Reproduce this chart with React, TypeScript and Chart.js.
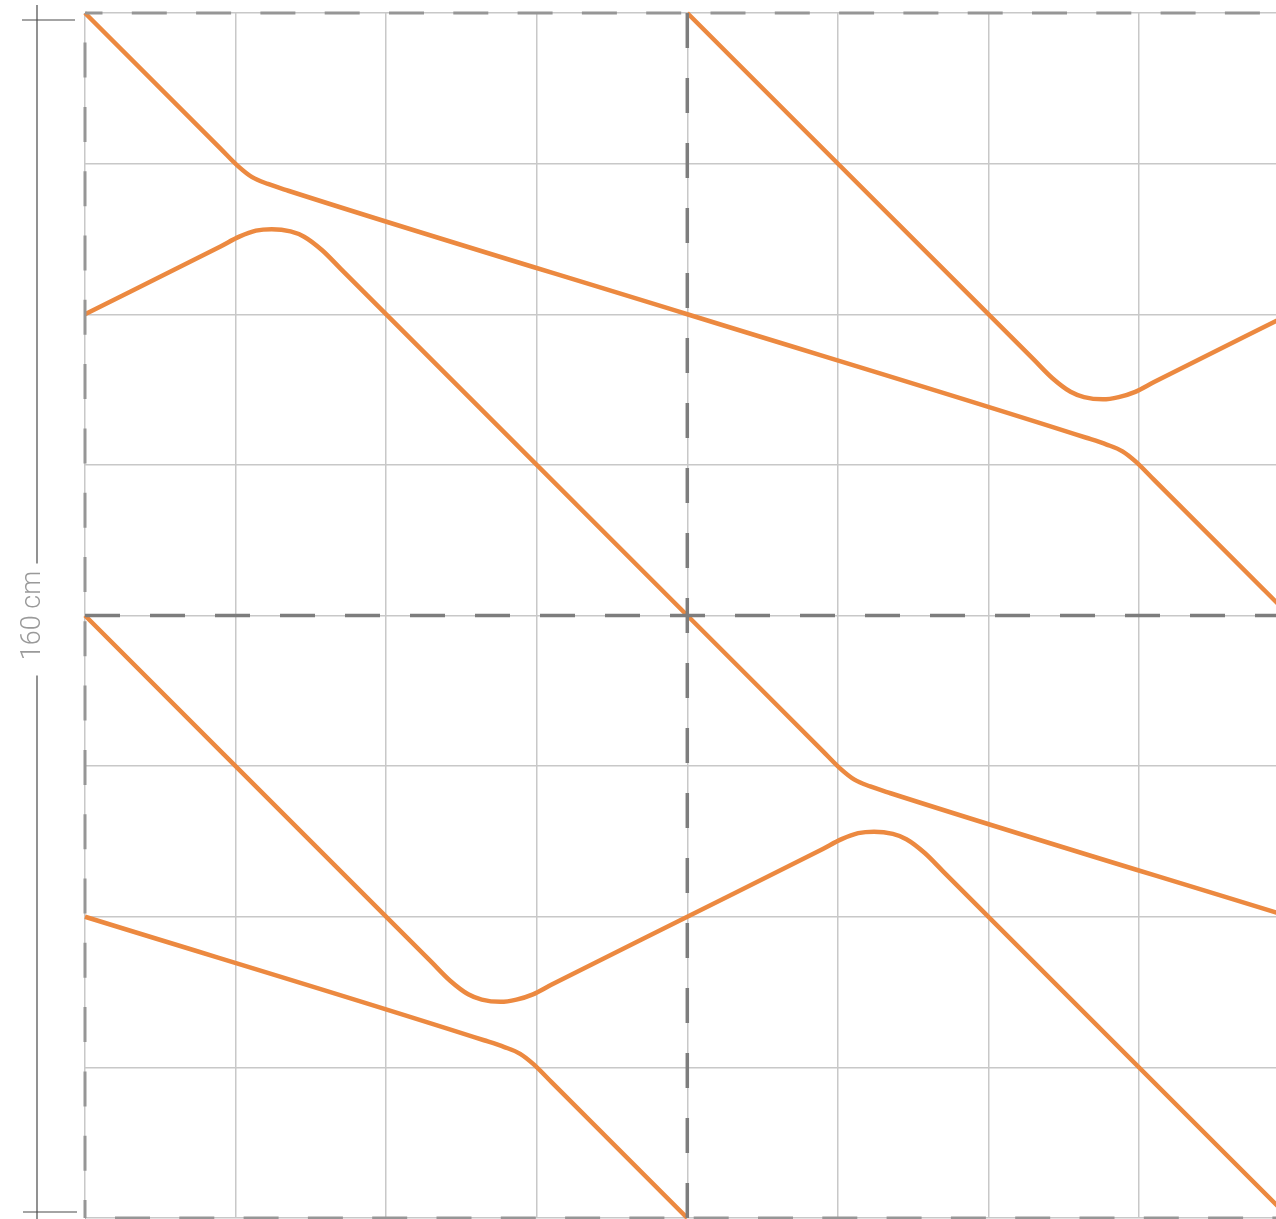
import React, { useEffect, useRef } from 'react';
import { Chart, registerables } from 'chart.js';

Chart.register(...registerables);

// Axis ticks (cm) – 20 cm grid over a 160 cm square
const gridTicks = [0, 20, 40, 60, 80, 100, 120, 140, 160];
const dimensionLabel = '160 cm';

// Orange pattern curves (x, y in cm)
const curve1X = [0, 18, 20.4, 22.2, 24.3, 27, 80, 133, 135.7, 137.8, 139.6, 142, 160];
const curve1Y = [160, 142, 139.6, 138.2, 137.3, 136.4, 120, 103.6, 102.7, 101.8, 100.4, 98, 80];

const curve2X = [0, 18, 20.5, 22.7, 24.8, 27.3, 29.1, 31.5, 34, 80, 98, 100.4, 102.2, 104.3, 107, 160];
const curve2Y = [120, 129, 130.3, 131.1, 131.3, 131.0, 130.3, 128.5, 126, 80, 62, 59.6, 58.2, 57.3, 56.4, 40];

const curve3X = [0, 46, 48.5, 50.9, 52.7, 55.2, 57.3, 59.5, 62, 80, 98, 100.5, 102.7, 104.8, 107.3, 109.1, 111.5, 114, 160];
const curve3Y = [80, 34, 31.5, 29.7, 29.0, 28.7, 29.0, 29.7, 31, 40, 49, 50.3, 51.1, 51.3, 51.0, 50.3, 48.5, 46, 0];

const curve4X = [0, 53, 55.7, 57.8, 59.6, 62, 80];
const curve4Y = [40, 23.6, 22.7, 21.8, 20.4, 18, 0];

const curve5X = [80, 126, 128.5, 130.9, 132.7, 135.2, 137.3, 139.5, 142, 160];
const curve5Y = [160, 114, 111.5, 109.7, 109.0, 108.7, 109.0, 109.7, 111, 120];

// Dashed tile-boundary guides
const guideLeftX = [0, 0];
const guideLeftY = [0, 160];
const guideCentreVX = [80, 80];
const guideCentreVY = [0, 160];
const guideCentreHX = [0, 160];
const guideCentreHY = [80, 80];
const guideTopX = [0, 160];
const guideTopY = [160, 160];
const guideBottomX = [0, 160];
const guideBottomY = [0, 0];

const ORANGE = '#EC8940';
const GRID = 'rgb(200,200,200)';
const EDGE_DASH = 'rgb(150,150,150)';
const CENTRE_DASH = 'rgb(125,125,125)';

const pts = (xs: number[], ys: number[]) => xs.map((x, i) => ({ x, y: ys[i] }));

const dimensionPlugin = {
  id: 'dimension',
  afterDraw(chart: any) {
    const { ctx, chartArea, scales } = chart;
    const yTop = scales.y.getPixelForValue(160) + 7;
    const yBot = scales.y.getPixelForValue(0) - 6;
    const yMid = scales.y.getPixelForValue(80);
    const x = chartArea.left - 48;
    ctx.save();
    ctx.strokeStyle = '#4a4a4a';
    ctx.lineWidth = 1.2;
    ctx.beginPath();
    ctx.moveTo(x, yTop - 15);
    ctx.lineTo(x, yMid - 52);
    ctx.moveTo(x, yMid + 60);
    ctx.lineTo(x, yBot + 8);
    ctx.moveTo(x - 15, yTop);
    ctx.lineTo(x + 38, yTop);
    ctx.moveTo(x - 14, yBot);
    ctx.lineTo(x + 40, yBot);
    ctx.stroke();
    ctx.translate(x - 4, yMid);
    ctx.rotate(-Math.PI / 2);
    ctx.fillStyle = '#9a9a9a';
    ctx.font = '300 27px Roboto';
    ctx.textAlign = 'center';
    ctx.textBaseline = 'middle';
    ctx.fillText(dimensionLabel, 0, 0);
    ctx.restore();
  },
};

export default function App() {
  const ref = useRef<HTMLCanvasElement | null>(null);

  useEffect(() => {
    if (!ref.current) return;
    const curve = (xs: number[], ys: number[]) => ({
      data: pts(xs, ys),
      borderColor: ORANGE,
      borderWidth: 4.5,
      pointRadius: 0,
      showLine: true,
      fill: false,
      cubicInterpolationMode: 'monotone' as const,
      clip: false as any,
      order: 2,
    });
    const guide = (xs: number[], ys: number[], color: string, width: number, dash: number[], offset: number) => ({
      data: pts(xs, ys),
      borderColor: color,
      borderWidth: width,
      borderDash: dash,
      borderDashOffset: offset,
      borderCapStyle: 'butt' as const,
      pointRadius: 0,
      showLine: true,
      fill: false,
      tension: 0,
      clip: false as any,
      order: 1,
    });
    const chart = new Chart(ref.current, {
      type: 'scatter',
      data: {
        datasets: [
          guide(guideLeftX, guideLeftY, EDGE_DASH, 3, [35, 29.3], 17),
          guide(guideTopX, guideTopY, EDGE_DASH, 3, [35, 29.3], 17.5),
          guide(guideBottomX, guideBottomY, EDGE_DASH, 3, [35, 29.3], 34.3),
          guide(guideCentreVX, guideCentreVY, CENTRE_DASH, 3.5, [35, 30], 0),
          guide(guideCentreHX, guideCentreHY, CENTRE_DASH, 3.5, [35, 30], 0),
          curve(curve1X, curve1Y),
          curve(curve2X, curve2Y),
          curve(curve3X, curve3Y),
          curve(curve4X, curve4Y),
          curve(curve5X, curve5Y),
        ],
      },
      options: {
        responsive: false,
        maintainAspectRatio: false,
        devicePixelRatio: 1,
        animation: false,
        layout: { padding: { left: 85, top: 13, right: 2.4, bottom: 1 } },
        plugins: { legend: { display: false }, tooltip: { enabled: false } },
        scales: {
          x: {
            type: 'linear',
            min: gridTicks[0],
            max: gridTicks[gridTicks.length - 1],
            afterBuildTicks: (s: any) => { s.ticks = gridTicks.map((v) => ({ value: v })); },
            ticks: { display: false },
            grid: { color: GRID, lineWidth: 1.5, drawTicks: false },
            border: { display: false },
          },
          y: {
            type: 'linear',
            min: gridTicks[0],
            max: gridTicks[gridTicks.length - 1],
            afterBuildTicks: (s: any) => { s.ticks = gridTicks.map((v) => ({ value: v })); },
            ticks: { display: false },
            grid: { color: GRID, lineWidth: 1.5, drawTicks: false },
            border: { display: false },
          },
        },
      },
      plugins: [dimensionPlugin],
    });
    return () => chart.destroy();
  }, []);

  return (
    <div style={{ position: 'absolute', left: 0, top: 0, width: 1276, height: 1219, overflow: 'hidden', background: '#ffffff' }}>
      <canvas ref={ref} width={1292} height={1219} style={{ display: 'block', width: 1292, height: 1219 }} />
    </div>
  );
}
